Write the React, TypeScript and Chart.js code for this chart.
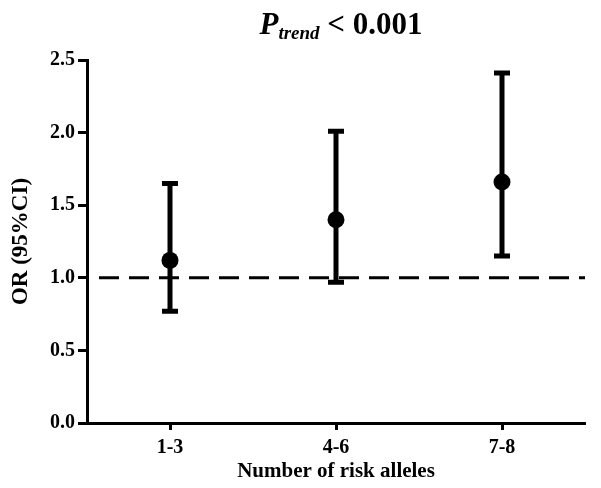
import React, { useEffect, useRef } from "react";
import { Chart, registerables } from "chart.js";

Chart.register(...registerables);

const categories = ["1-3", "4-6", "7-8"];
const orValues = [1.12, 1.4, 1.66];
const ciLower = [0.77, 0.97, 1.15];
const ciUpper = [1.65, 2.01, 2.41];
const yTickValues = [0, 0.5, 1.0, 1.5, 2.0, 2.5];
const referenceValue = 1.0;
const titleMain = "P";
const titleSub = "trend";
const titleRest = " < 0.001";
const xTitle = "Number of risk alleles";
const yTitle = "OR (95%CI)";

const FONT = "'Liberation Serif', 'Times New Roman', serif";

const overlayPlugin = {
  id: "overlay",
  beforeDatasetsDraw(chart: any) {
    const { ctx, chartArea, scales } = chart;
    const xs = scales.x;
    const ys = scales.y;
    ctx.save();
    const yRef = ys.getPixelForValue(referenceValue);
    ctx.strokeStyle = "#000";
    ctx.lineWidth = 3;
    ctx.setLineDash([20, 10]);
    ctx.beginPath();
    ctx.moveTo(chartArea.left + 12, yRef);
    ctx.lineTo(chartArea.right, yRef);
    ctx.stroke();
    ctx.setLineDash([]);
    ctx.lineWidth = 5;
    ctx.lineCap = "butt";
    categories.forEach((_, i) => {
      const x = xs.getPixelForValue(i);
      const yl = ys.getPixelForValue(ciLower[i]);
      const yu = ys.getPixelForValue(ciUpper[i]);
      ctx.beginPath();
      ctx.moveTo(x, yl);
      ctx.lineTo(x, yu);
      ctx.stroke();
      ctx.beginPath();
      ctx.moveTo(x - 8, yl);
      ctx.lineTo(x + 8, yl);
      ctx.moveTo(x - 8, yu);
      ctx.lineTo(x + 8, yu);
      ctx.stroke();
    });
    ctx.restore();
  },
  afterDraw(chart: any) {
    const { ctx, chartArea } = chart;
    ctx.save();
    ctx.fillStyle = "#000";
    ctx.textBaseline = "alphabetic";
    const fMain = `italic bold 31px ${FONT}`;
    const fSub = `italic bold 19px ${FONT}`;
    const fRest = `bold 31px ${FONT}`;
    ctx.font = fMain;
    const w1 = ctx.measureText(titleMain).width;
    ctx.font = fSub;
    const w2 = ctx.measureText(titleSub).width;
    ctx.font = fRest;
    const w3 = ctx.measureText(titleRest).width;
    const total = w1 + w2 + w3;
    let x = (chartArea.left + chartArea.right) / 2 + 5 - total / 2;
    const base = 34;
    ctx.font = fMain;
    ctx.fillText(titleMain, x, base);
    x += w1;
    ctx.font = fSub;
    ctx.fillText(titleSub, x, base + 5);
    x += w2;
    ctx.font = fRest;
    ctx.fillText(titleRest, x, base);
    ctx.restore();
  },
};

export default function App() {
  const ref = useRef<HTMLCanvasElement | null>(null);
  useEffect(() => {
    if (!ref.current) return;
    const chart = new Chart(ref.current, {
      type: "line",
      data: {
        labels: categories,
        datasets: [
          {
            data: orValues,
            showLine: false,
            pointRadius: 8.5,
            pointHoverRadius: 8.5,
            pointBackgroundColor: "#000",
            pointBorderColor: "#000",
            pointBorderWidth: 0,
          },
        ],
      },
      options: {
        animation: false,
        responsive: false,
        events: [],
        layout: { padding: { left: 0, top: 60, right: 16, bottom: 0 } },
        plugins: {
          legend: { display: false },
          tooltip: { enabled: false },
          title: { display: false },
        },
        scales: {
          x: {
            type: "category",
            offset: true,
            grid: {
              display: true,
              drawOnChartArea: false,
              drawTicks: true,
              tickLength: 7,
              tickWidth: 3,
              tickColor: "#000",
              offset: false,
            },
            border: { display: true, color: "#000", width: 3 },
            ticks: {
              color: "#000",
              padding: 6,
              font: { family: FONT, size: 20, weight: "bold" },
            },
            title: {
              display: true,
              text: xTitle,
              color: "#000",
              padding: { top: 2, bottom: 4 },
              font: { family: FONT, size: 21, weight: "bold" },
            },
            afterFit: (s: any) => {
              s.height = 65;
            },
          },
          y: {
            type: "linear",
            min: 0,
            max: 2.5,
            afterBuildTicks: (s: any) => {
              s.ticks = yTickValues.map((v) => ({ value: v }));
            },
            grid: {
              display: true,
              drawOnChartArea: false,
              drawTicks: true,
              tickLength: 9,
              tickWidth: 3,
              tickColor: "#000",
            },
            border: { display: true, color: "#000", width: 3 },
            ticks: {
              color: "#000",
              padding: 3,
              font: { family: FONT, size: 20, weight: "bold" },
              callback: (v: any) => Number(v).toFixed(1),
            },
            title: {
              display: true,
              text: yTitle,
              color: "#000",
              padding: { top: 7, bottom: 0 },
              font: { family: FONT, size: 23, weight: "bold" },
            },
            afterFit: (s: any) => {
              s.width = 87;
            },
          },
        },
      },
      plugins: [overlayPlugin],
    } as any);
    return () => chart.destroy();
  }, []);
  return (
    <div style={{ position: "absolute", left: 0, top: 0, width: 601, height: 488, background: "#fff" }}>
      <canvas ref={ref} width={601} height={488} style={{ display: "block" }} />
    </div>
  );
}
